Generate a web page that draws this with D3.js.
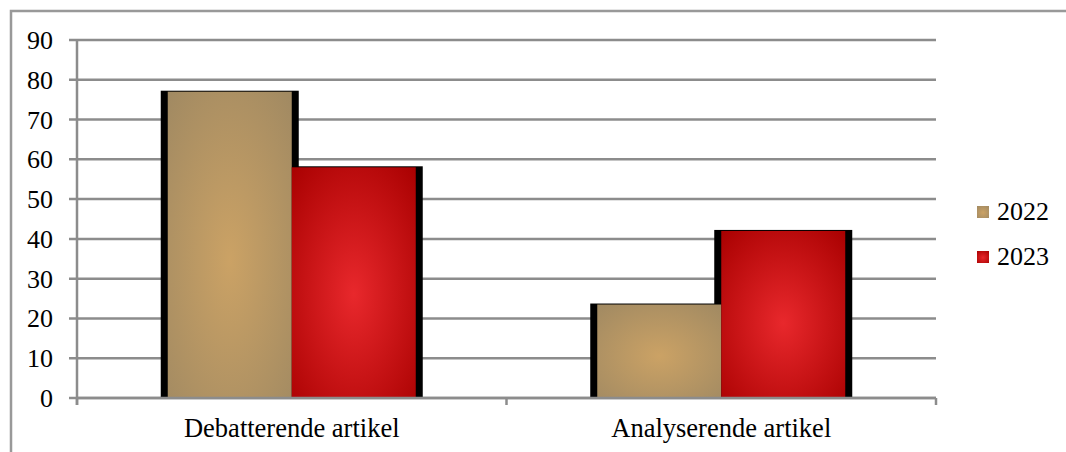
<!DOCTYPE html>
<html><head><meta charset="utf-8">
<script src="https://cdn.jsdelivr.net/npm/d3@7"></script>
<style>html,body{margin:0;padding:0;background:#fff;}svg{display:block;}
text{font-family:"Liberation Serif","Tinos","Times New Roman","DejaVu Serif",serif;}</style>
</head><body>
<svg id="c" width="1066" height="452"></svg>
<script>
const categories = ["Debatterende artikel", "Analyserende artikel"];
const seriesNames = ["2022", "2023"];
const values2022 = [77, 23.5];
const values2023 = [58, 42];
const yTicks = [0, 10, 20, 30, 40, 50, 60, 70, 80, 90];

const svg = d3.select("#c");
const m = {l: 77, r: 936, t: 40, b: 398};

const defs = svg.append("defs");
const grads = [
  {id: "g2022", inner: "#cba265", outer: "#a08962"},
  {id: "g2023", inner: "#e8282c", outer: "#a80000"}
];
grads.forEach(g => {
  const rg = defs.append("radialGradient").attr("id", g.id).attr("cx", "50%").attr("cy", "55%").attr("r", "75%");
  rg.append("stop").attr("offset", "0%").attr("stop-color", g.inner);
  rg.append("stop").attr("offset", "100%").attr("stop-color", g.outer);
});

// outer border
svg.append("path").attr("d", "M11,460 L11,11 L1070,11").attr("fill", "none").attr("stroke", "#999").attr("stroke-width", 2.5);

const x0 = d3.scaleBand().domain(categories).range([m.l, m.r]).paddingInner(0).paddingOuter(0);
const y = d3.scaleLinear().domain([0, 90]).range([m.b, m.t]);
const barW = 124;
const x1 = d3.scaleBand().domain(seriesNames).range([0, barW * 2]);

// gridlines
svg.append("g").selectAll("line").data(yTicks).join("line")
  .attr("x1", m.l - 8).attr("x2", m.r)
  .attr("y1", d => y(d)).attr("y2", d => y(d))
  .attr("stroke", "#8c8c8c").attr("stroke-width", 2.5);

// y axis line
svg.append("line").attr("x1", m.l).attr("x2", m.l).attr("y1", m.t).attr("y2", m.b + 7)
  .attr("stroke", "#8c8c8c").attr("stroke-width", 2.5);

// tick labels
svg.append("g").selectAll("text").data(yTicks).join("text")
  .attr("x", 53).attr("y", d => y(d) + 9)
  .attr("text-anchor", "end").attr("font-size", 26).attr("fill", "#000")
  .text(d => d);

// bars
const data = categories.map((c, i) => ({cat: c, vals: [values2022[i], values2023[i]]}));
const groups = svg.append("g").selectAll("g").data(data).join("g")
  .attr("transform", d => `translate(${x0(d.cat) + x0.bandwidth() / 2 - barW},0)`);
seriesNames.forEach((s, si) => {
  groups.append("rect")
    .attr("x", x1(s) - 7).attr("width", barW + 14)
    .attr("y", d => y(d.vals[si]) - 1).attr("height", d => m.b - y(d.vals[si]) + 1)
    .attr("fill", "#000");
});
seriesNames.forEach((s, si) => {
  groups.append("rect")
    .attr("x", x1(s)).attr("width", barW)
    .attr("y", d => y(d.vals[si])).attr("height", d => m.b - y(d.vals[si]))
    .attr("fill", `url(#${grads[si].id})`);
});

// x axis line & ticks
svg.append("line").attr("x1", m.l).attr("x2", m.r).attr("y1", m.b).attr("y2", m.b)
  .attr("stroke", "#8c8c8c").attr("stroke-width", 2.5);
const xt = [m.l, m.l + x0.bandwidth(), m.r];
svg.append("g").selectAll("line").data(xt).join("line")
  .attr("x1", d => d).attr("x2", d => d).attr("y1", m.b).attr("y2", m.b + 7)
  .attr("stroke", "#8c8c8c").attr("stroke-width", 2.5);

// category labels
svg.append("g").selectAll("text").data(categories).join("text")
  .attr("x", d => x0(d) + x0.bandwidth() / 2).attr("y", 437)
  .attr("text-anchor", "middle").attr("font-size", 26.5).attr("fill", "#000")
  .text(d => d);

// legend
const leg = svg.append("g").selectAll("g").data(seriesNames).join("g")
  .attr("transform", (d, i) => `translate(977,${206 + i * 45})`);
leg.append("rect").attr("width", 12).attr("height", 12).attr("fill", (d, i) => `url(#${grads[i].id})`);
leg.append("text").attr("x", 20).attr("y", 14).attr("font-size", 26).attr("fill", "#000").text(d => d);
</script>
</body></html>
